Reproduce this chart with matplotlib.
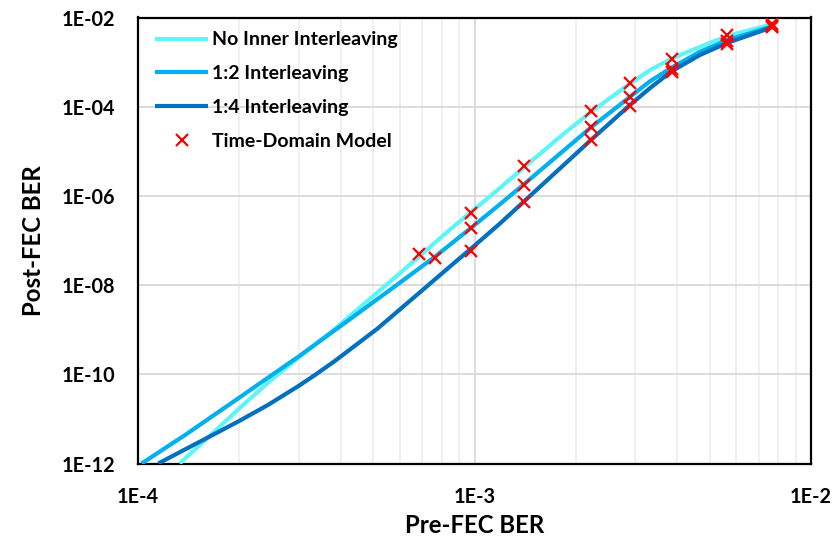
import matplotlib
matplotlib.use("Agg")
import matplotlib.pyplot as plt
from matplotlib.ticker import FixedLocator, NullFormatter, LogLocator

plt.rcParams['font.family'] = ['Lato', 'DejaVu Sans']

# ---- data ----
no_inner_x = [1.33e-4, 1.655e-4, 2.0e-4, 2.44e-4, 3.0e-4, 3.85e-4, 5.5e-4,
              6.83e-4, 8.45e-4, 9.75e-4, 1.19e-3, 1.40e-3, 1.75e-3, 2.22e-3, 2.9e-3,
              3.32e-3, 3.85e-3, 4.68e-3, 5.64e-3, 7.64e-3]
no_inner_y = [1e-12, 4.56e-12, 1.72e-11, 6.6e-11, 2.38e-10, 1.05e-9, 1.05e-8,
              4.3e-8, 1.75e-7, 4.3e-7, 1.5e-6, 4.3e-6, 1.8e-5, 7.7e-5, 3.3e-4,
              6.6e-4, 1.2e-3, 2.2e-3, 3.85e-3, 7.0e-3]

il12_x = [1.025e-4, 1.38e-4, 2.0e-4, 2.44e-4, 3.0e-4, 3.85e-4, 5.87e-4, 7.62e-4,
          9.75e-4, 1.19e-3, 1.40e-3, 1.73e-3, 2.22e-3, 2.9e-3, 3.32e-3, 3.85e-3,
          4.68e-3, 5.64e-3, 7.64e-3]
il12_y = [1e-12, 4.35e-12, 3.0e-11, 8.5e-11, 2.5e-10, 9.8e-10, 1e-8, 4.3e-8,
          1.9e-7, 6.5e-7, 1.8e-6, 7.0e-6, 3.45e-5, 1.67e-4, 3.7e-4, 7.5e-4,
          1.71e-3, 3.1e-3, 6.3e-3]

il14_x = [1.149e-4, 1.38e-4, 1.655e-4, 2.0e-4, 2.44e-4, 3.0e-4, 3.36e-4, 3.85e-4,
          5.15e-4, 7.29e-4, 8.45e-4, 9.75e-4, 1.19e-3, 1.40e-3, 1.73e-3, 2.22e-3,
          2.9e-3, 3.32e-3, 3.85e-3, 4.68e-3, 5.64e-3, 7.64e-3]
il14_y = [1e-12, 2.07e-12, 4.24e-12, 9.0e-12, 2.08e-11, 5.47e-11, 9.7e-11, 2.0e-10,
          1.06e-9, 1e-8, 2.6e-8, 6.5e-8, 2.4e-7, 7.4e-7, 3.2e-6, 1.8e-5,
          1.1e-4, 2.6e-4, 6.2e-4, 1.45e-3, 2.7e-3, 6.0e-3]

td_x = [6.83e-4, 7.62e-4, 9.75e-4, 9.75e-4, 9.75e-4, 1.40e-3, 1.40e-3, 1.40e-3,
        2.22e-3, 2.22e-3, 2.22e-3, 2.9e-3, 2.9e-3, 2.9e-3, 3.87e-3, 3.87e-3, 3.87e-3,
        5.64e-3, 5.64e-3, 5.64e-3, 7.64e-3, 7.64e-3, 7.64e-3]
td_y = [5.0e-8, 4.0e-8, 4.1e-7, 1.9e-7, 5.7e-8, 4.8e-6, 1.8e-6, 7.4e-7,
        8.0e-5, 3.45e-5, 1.8e-5, 3.35e-4, 1.65e-4, 1.05e-4, 1.2e-3, 7.0e-4, 6.0e-4,
        4.1e-3, 2.9e-3, 2.6e-3, 7.0e-3, 6.3e-3, 6.0e-3]

x_ticks = [1e-4, 1e-3, 1e-2]
x_tick_labels = ["1E-4", "1E-3", "1E-2"]
y_ticks = [1e-12, 1e-10, 1e-8, 1e-6, 1e-4, 1e-2]
y_tick_labels = ["1E-12", "1E-10", "1E-08", "1E-06", "1E-04", "1E-02"]

fig = plt.figure(figsize=(8.38, 5.40), dpi=100)
ax = fig.add_axes([138/838, 1-463.5/540, (811-138)/838, (463.5-17.5)/540])

ax.set_xscale('log')
ax.set_yscale('log')
ax.set_xlim(1e-4, 1e-2)
ax.set_ylim(1e-12, 1e-2)

line_kw = dict(lw=3.0, solid_capstyle='butt', solid_joinstyle='round', zorder=3)
ax.plot(no_inner_x, no_inner_y, color='#5FF5F8', label='No Inner Interleaving', **line_kw)
ax.plot(il12_x, il12_y, color='#00B0F0', label='1:2 Interleaving', **line_kw)
ax.plot(il14_x, il14_y, color='#0070C0', label='1:4 Interleaving', **line_kw)
ax.plot(td_x, td_y, linestyle='none', marker='x', color='#FF0000', ms=8, mew=1.6,
        label='Time-Domain Model', zorder=4)

ax.xaxis.set_major_locator(FixedLocator(x_ticks))
ax.xaxis.set_minor_locator(LogLocator(base=10, subs=range(2, 10)))
ax.xaxis.set_minor_formatter(NullFormatter())
ax.set_xticklabels(x_tick_labels)
ax.yaxis.set_major_locator(FixedLocator(y_ticks))
ax.yaxis.set_minor_locator(FixedLocator([]))
ax.set_yticklabels(y_tick_labels)

ax.grid(which='major', color='#D9D9D9', lw=1.3)
ax.grid(which='minor', axis='x', color='#EFEFEF', lw=1.3)
ax.set_axisbelow(True)

ax.tick_params(which='both', length=0)
ax.tick_params(axis='x', pad=17)
ax.tick_params(axis='y', pad=16.5)
for lab in ax.get_xticklabels() + ax.get_yticklabels():
    lab.set_fontsize(14.3)
    lab.set_fontweight('bold')

for s in ax.spines.values():
    s.set_color('black')
    s.set_linewidth(1.6)

ax.set_xlabel('Pre-FEC BER', fontsize=17.3, fontweight='bold', labelpad=5)
ax.set_ylabel('Post-FEC BER', fontsize=17.3, fontweight='bold', labelpad=12)

leg = ax.legend(loc='upper left', frameon=False, prop={'weight': 'bold', 'size': 14},
                handlelength=2.73, handletextpad=0.2, labelspacing=0.86,
                borderaxespad=0.48, borderpad=0.4, bbox_to_anchor=(0.0, 1.007))

fig.savefig('out.png', dpi=100)
